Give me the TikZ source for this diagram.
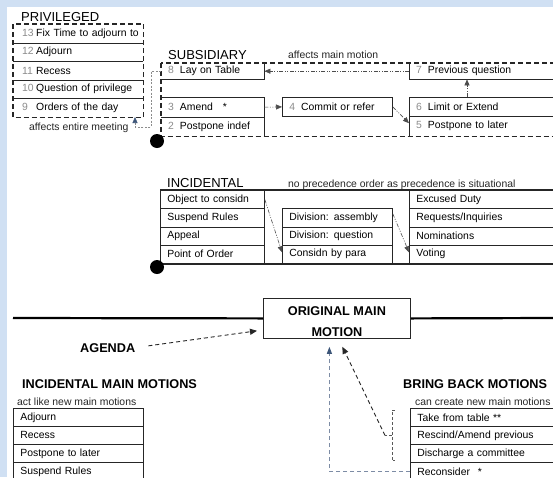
\documentclass[tikz,border=0pt]{standalone}
\usepackage{fontspec}
\setmainfont{Liberation Sans}
\usetikzlibrary{arrows.meta,positioning,calc}
\definecolor{bgblue}{RGB}{208,224,243}
\definecolor{slate}{RGB}{60,85,120}
\definecolor{slatelight}{RGB}{125,140,165}
\newcommand{\mnum}[1]{\textcolor{black!45}{#1}}

\begin{document}
\begin{tikzpicture}[x=1pt, y=-1pt,
  cell/.style={anchor=north west, inner xsep=7pt, inner ysep=0pt, minimum height=18.5pt, align=left, font=\fontsize{10.4pt}{12pt}\selectfont},
  cellbox/.style={cell, draw=black!85, line width=0.8pt},
  rule/.style={draw=black!85, line width=0.8pt},
  head/.style={anchor=base west, inner sep=0pt, font=\fontsize{13pt}{15pt}\selectfont},
  bighead/.style={anchor=base west, inner sep=0pt, font=\bfseries\fontsize{12.7pt}{15pt}\selectfont},
  note/.style={anchor=base west, inner sep=0pt, font=\fontsize{10.4pt}{12pt}\selectfont, text=black!85},
  group/.style={draw=black!85, line width=1.3pt, dash pattern=on 5pt off 3pt},
  bracket/.style={draw=black!65, line width=0.9pt, dash pattern=on 3pt off 2pt},
  dotlink/.style={draw=black!70, line width=0.6pt, dash pattern=on 4pt off 1.5pt on 1pt off 1.5pt on 1pt off 1.5pt, -{Triangle[length=6pt,width=5pt]}},
  privlink/.style={draw=black!45, line width=0.6pt, dash pattern=on 2pt off 1.5pt, -{Triangle[length=6pt,width=5pt,color=slate]}},
  dashlink/.style={draw=black!85, line width=0.9pt, dash pattern=on 4pt off 3pt, -{Triangle[length=7pt,width=6pt]}},
  bluelink/.style={draw=slatelight, line width=0.9pt, dash pattern=on 4pt off 3pt, -{Triangle[length=7pt,width=5pt,color=slate]}},
  blob/.style={circle, fill=black, inner sep=0pt, minimum size=14pt}
]
  \useasboundingbox (0,0) rectangle (553,477);
  \clip (0,0) rectangle (553,477);
  \fill[bgblue] (0,0) rectangle (553,477);
  \fill[white] (7,7) rectangle (553,477);

  % Privileged
  \node[head] (privhead) at (21,21) {PRIVILEGED};
  \foreach \nr/\lbl [count=\i] in {13/Fix Time to adjourn to, 12/Adjourn, 11/Recess, 10/Question of privilege, 9/Orders of the day}
    \node[cell, inner xsep=4pt, text width=122pt, minimum height=18.6pt] (priv-\i) at (13, 5.4+18.6*\i) {\hspace{5pt}\makebox[14pt][l]{\mnum{\nr}}\lbl};
  \foreach \i in {1,...,4}
    \draw[rule] (priv-\i.south west) -- (priv-\i.south east);
  \draw[group] (priv-1.north west) rectangle (priv-5.south east);
  \node[note] (privnote) at (29,130) {affects entire meeting};
  \coordinate (privtip) at (135,117);

  % Subsidiary
  \node[head] (subhead) at (168,59) {SUBSIDIARY};
  \node[note] (subnote) at (288,58) {affects main motion};
  \node[cell, text width=89pt, minimum height=16pt] (lay) at (161,63) {\mnum{8}\hspace{6pt}Lay on Table};
  \node[cell, text width=137pt, minimum height=16pt] (prev) at (409,63) {\mnum{7}\hspace{6pt}Previous question};
  \node[cell, text width=89pt, minimum height=20pt] (amend) at (161,97) {\mnum{3}\hspace{6pt}Amend\hspace{10pt}*};
  \node[cell, text width=89pt, minimum height=19pt] (indef) at (161,117) {\mnum{2}\hspace{6pt}Postpone indef};
  \node[cellbox, text width=96pt, minimum height=19pt] (commit) at (282,97) {\mnum{4}\hspace{6pt}Commit or refer};
  \node[cell, text width=137pt, minimum height=19pt] (limit) at (409,97) {\mnum{6}\hspace{6pt}Limit or Extend};
  \node[cell, text width=137pt, minimum height=20pt] (later) at (409,116) {\mnum{5}\hspace{6pt}Postpone to later};
  \draw[rule] (lay.north east) |- (lay.south west);
  \draw[rule] (prev.south east) -| (prev.north west);
  \draw[rule] (amend.north west) -- (amend.north east) -- (indef.south east);
  \draw[rule] (amend.south west) -- (amend.south east);
  \draw[rule] (limit.north east) -- (limit.north west) -- (later.south west);
  \draw[rule] (limit.south west) -- (limit.south east);
  \draw[group] (lay.north west) rectangle (later.south east);
  \node[blob] (subblob) at (157,141) {};
  % precedence links
  \draw[dotlink] (prev.west) -- (lay.east);
  \draw[dotlink] (amend.east) -- (commit.west);
  \draw[dotlink] (commit.east) -- ([yshift=3pt]later.west);
  \draw[dotlink] ([xshift=58pt]limit.north west) -- ([xshift=58pt]prev.south west);
  \draw[privlink] (lay.west) -- ++(-10,0) |- ([yshift=-10pt]privtip) -- (privtip);

  % Incidental
  \node[head] (inchead) at (167,187) {INCIDENTAL};
  \node[note] (incnote) at (288,187) {no precedence order as precedence is situational};
  \foreach \lbl [count=\i] in {Object to considn, Suspend Rules, Appeal, Point of Order}
    \node[cellbox, text width=90pt, minimum height=18.25pt] (inc-\i) at (160, 171.75+18.25*\i) {\lbl};
  \foreach \lbl [count=\i] in {Division: assembly, Division: question, Considn by para}
    \node[cellbox, text width=96pt, minimum height=18.25pt] (div-\i) at (282, 190+18.25*\i) {\lbl};
  \foreach \lbl [count=\i] in {Excused Duty, Requests/Inquiries, Nominations, Voting}
    \node[cellbox, text width=150pt, minimum height=18.25pt] (sit-\i) at (409, 171.75+18.25*\i) {\lbl};
  \draw[rule, line width=1.6pt] (inc-1.north west) -- (sit-1.north east);
  \draw[rule, line width=1.6pt] (inc-4.south west) -- (sit-4.south east);
  \node[blob] (incblob) at (157,267) {};
  \draw[dotlink] (inc-1.east) -- ([yshift=2pt]div-3.west);
  \draw[dotlink] ([yshift=4pt]div-1.east) -- ([yshift=2pt]sit-4.west);

  % Main motion on the agenda line
  \node[draw=black!85, line width=0.8pt, minimum width=147pt, minimum height=40pt, inner ysep=1pt, align=center, font=\bfseries\fontsize{12.7pt}{21pt}\selectfont, anchor=north west] (omm) at (263,298) {\rule{0pt}{15.2pt}ORIGINAL MAIN\\MOTION};
  \draw[line width=2.2pt] (13,318) -- (omm.west);
  \draw[line width=2.2pt] (omm.east) -- (553,318);
  \node[bighead] (agenda) at (80,352) {AGENDA};
  \draw[dashlink, shorten <=13pt] (agenda.east) -- ([xshift=-6pt,yshift=8pt]omm.south west);

  % Incidental main motions
  \node[bighead] (imhead) at (22,388) {INCIDENTAL MAIN MOTIONS};
  \node[note] (imnote) at (17,405) {act like new main motions};
  \foreach \lbl [count=\i] in {Adjourn, Recess, Postpone to later, Suspend Rules}
    \node[cellbox, text width=116pt, minimum height=18pt] (im-\i) at (13, 390+18*\i) {\lbl};

  % Bring back motions
  \node[bighead] (bbhead) at (403,388) {BRING BACK MOTIONS};
  \node[note] (bbnote) at (415,405) {can create new main motions};
  \foreach \lbl [count=\i] in {Take from table **, Rescind/Amend previous, Discharge a committee, Reconsider\hspace{8pt}*}
    \node[cellbox, text width=141pt, minimum height=18pt] (bb-\i) at (410, 390+18*\i) {\lbl};
  \draw[bracket] ([xshift=-15pt,yshift=-2pt]bb-1.north west) -- ++(-3,0) |- ([xshift=-15pt,yshift=2pt]bb-3.south west);
  \draw[bracket] ([xshift=-18pt]bb-2.west) -- ([xshift=-25pt]bb-2.west) coordinate (bbtip);
  \draw[dashlink] (bbtip) -- ([xshift=5.5pt,yshift=-8pt]omm.south);
  \draw[bluelink] (bb-4.west) -| ([xshift=-7.5pt,yshift=-8pt]omm.south);
\end{tikzpicture}
\end{document}
